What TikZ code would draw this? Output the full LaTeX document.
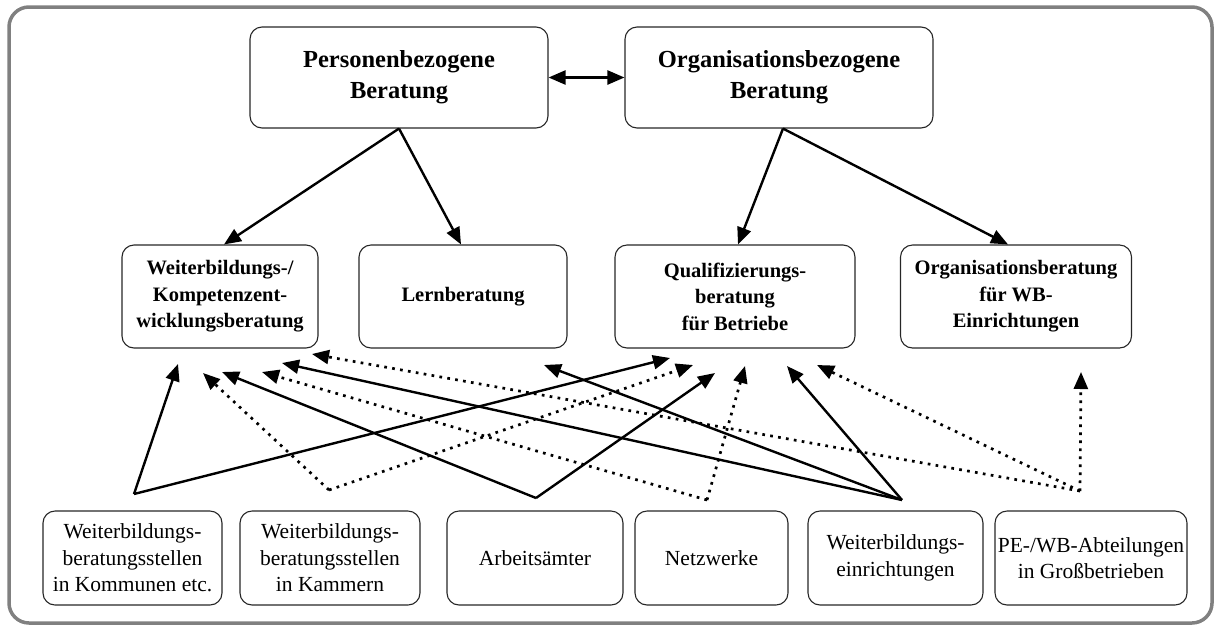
\documentclass[tikz,border=0pt]{standalone}
\usepackage{fontspec}
\setmainfont{Liberation Serif}
\usetikzlibrary{arrows.meta}
\begin{document}
\begin{tikzpicture}[x=1pt,y=-1pt,
  box/.style={draw=black!85, line width=1.1pt, rounded corners=12pt, align=center, inner sep=0pt},
  topbox/.style={box, font=\fontsize{24.5}{31}\selectfont\bfseries, minimum height=101pt},
  midbox/.style={box, font=\fontsize{20.5}{26.5}\selectfont\bfseries, minimum height=103pt},
  botbox/.style={box, font=\fontsize{21.5}{26.5}\selectfont, minimum height=94pt},
  tip/.style={-{Triangle[length=17pt,width=14pt]}},
  sarrow/.style={tip, line width=2.4pt},
  darrow/.style={tip, line width=2.7pt, dash pattern=on 2.7pt off 5.3pt},
]
\useasboundingbox (0,0) rectangle (1217,630);
\draw[line width=3.5pt, draw=black!50, rounded corners=20pt] (9,7) rectangle (1212,623);

% top boxes
\node[topbox, minimum width=298pt] (P) at (399,77.5) {Personenbezogene\\Beratung};
\node[topbox, minimum width=308pt] (O) at (779,77.5) {Organisationsbezogene\\Beratung};

% middle boxes
\node[midbox, minimum width=196pt] (W) at (220,296.5) {Weiterbildungs-/\\Kompetenzent-\\wicklungsberatung};
\node[midbox, minimum width=208pt] (L) at (463,296.5) {Lernberatung};
\node[midbox, minimum width=240pt] (Q) at (735,296.5) {Qualifizierungs-\\beratung\\für Betriebe};
\node[midbox, minimum width=231pt] (R) at (1016,296.5) {Organisationsberatung\\für WB-\\Einrichtungen};

% bottom boxes
\node[botbox, minimum width=179pt] (B1) at (132.5,558) {Weiterbildungs-\\beratungsstellen\\in Kommunen etc.};
\node[botbox, minimum width=180pt] (B2) at (330,558) {Weiterbildungs-\\beratungsstellen\\in Kammern};
\node[botbox, minimum width=176pt] (B3) at (535,558) {Arbeitsämter};
\node[botbox, minimum width=153pt] (B4) at (711.5,558) {Netzwerke};
\node[botbox, minimum width=175pt] (B5) at (895.5,558) {Weiterbildungs-\\einrichtungen};
\node[botbox, minimum width=192pt] (B6) at (1091,558) {PE-/WB-Abteilungen\\in Großbetrieben};

% top connectors
\draw[line width=2.4pt, {Triangle[length=17pt,width=14pt]}-{Triangle[length=17pt,width=14pt]}] (P.east) -- (O.west);
\draw[sarrow] (P.south) -- ([xshift=4pt]W.north);
\draw[sarrow] (P.south) -- ([xshift=-2pt]L.north);
\draw[sarrow] ([xshift=4pt]O.south) -- ([xshift=3pt]Q.north);
\draw[sarrow] ([xshift=4pt]O.south) -- ([xshift=-8pt]R.north);

% junction points above bottom boxes
\coordinate (s1) at (134,494);
\coordinate (s2) at (329,490);
\coordinate (s3) at (536,498);
\coordinate (s4) at (707,500);
\coordinate (s5) at (902,500);
\coordinate (s6) at (1080,491);

% arrow tips below middle boxes
\coordinate (w1) at (178,364);
\coordinate (w2) at (203,373);
\coordinate (w3) at (222,372);
\coordinate (w4) at (262,372);
\coordinate (w5) at (282,363);
\coordinate (w6) at (312,354);
\coordinate (l1) at (544,365);
\coordinate (q1) at (670,358);
\coordinate (q2) at (693,365);
\coordinate (q3) at (715,373);
\coordinate (q4) at (745,366);
\coordinate (q5) at (787,366);
\coordinate (q6) at (817,365);
\coordinate (r1) at (1081,372);

% solid
\draw[sarrow] (s1) -- (w1);
\draw[sarrow] (s1) -- (q1);
\draw[sarrow] (s3) -- (w3);
\draw[sarrow] (s3) -- (q3);
\draw[sarrow] (s5) -- (w5);
\draw[sarrow] (s5) -- (l1);
\draw[sarrow] (s5) -- (q5);
% dotted
\draw[darrow] (s2) -- (w2);
\draw[darrow] (s2) -- (q2);
\draw[darrow] (s4) -- (w4);
\draw[darrow] (s4) -- (q4);
\draw[darrow] (s6) -- (w6);
\draw[darrow] (s6) -- (q6);
\draw[darrow] (s6) -- (r1);
\end{tikzpicture}
\end{document}
